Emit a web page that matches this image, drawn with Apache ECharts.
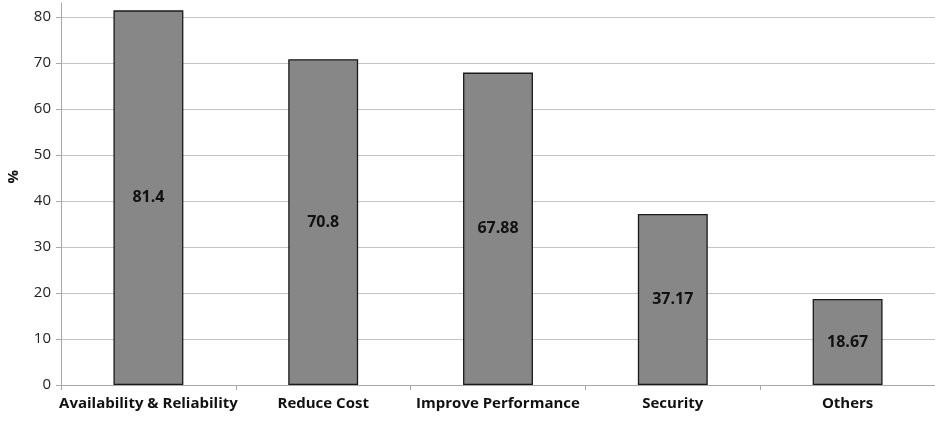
<!DOCTYPE html>
<html><head><meta charset="utf-8">
<script src="https://cdn.jsdelivr.net/npm/echarts@6/dist/echarts.min.js"></script>
<style>html,body{margin:0;padding:0;background:#fff}#c{width:935px;height:421px}</style>
</head><body><div id="c"></div>
<script>
const categories = ["Availability & Reliability", "Reduce Cost", "Improve Performance", "Security", "Others"];
const values = [81.4, 70.8, 67.88, 37.17, 18.67];
const yTicks = [0, 10, 20, 30, 40, 50, 60, 70, 80];
const yName = '%';

const chart = echarts.init(document.getElementById('c'));
const font = '"Open Sans", "Noto Sans", sans-serif';
chart.setOption({
  animation: false,
  grid: { left: 61, right: 0, top: 3, bottom: 36, containLabel: false, outerBoundsMode: 'none' },
  graphic: [{
    type: 'text', left: 6, top: 170, rotation: Math.PI / 2,
    style: { text: yName, fill: '#111', font: 'bold 15px ' + font }
  }],
  xAxis: {
    type: 'category', data: categories,
    axisLine: { lineStyle: { color: '#a8a8a8', width: 1 } },
    axisTick: { show: true, alignWithLabel: false, length: 5, lineStyle: { color: '#a8a8a8' } },
    axisLabel: { interval: 0, color: '#111', fontWeight: 'bold', fontSize: 15, fontFamily: font, margin: 11 }
  },
  yAxis: {
    type: 'value', min: 0, max: 83, interval: 10,
    axisLine: { show: true, lineStyle: { color: '#a8a8a8', width: 1 } },
    axisTick: { show: true, length: 5, lineStyle: { color: '#a8a8a8' } },
    axisLabel: { color: '#222', fontSize: 15, fontFamily: font, margin: 10, showMaxLabel: false,
      formatter: v => yTicks.includes(v) ? String(v) : '' },
    splitLine: { showMaxLine: false, lineStyle: { color: '#c4c4c4', width: 1 } }
  },
  series: [{
    type: 'bar', data: values, barCategoryGap: '60%',
    itemStyle: { color: '#878787', borderColor: '#1a1a1a', borderWidth: 1.3 },
    label: { show: true, position: 'inside', color: '#111', fontWeight: 'bold', fontSize: 16, fontFamily: font,
      formatter: p => String(p.value) }
  }]
});
</script></body></html>
